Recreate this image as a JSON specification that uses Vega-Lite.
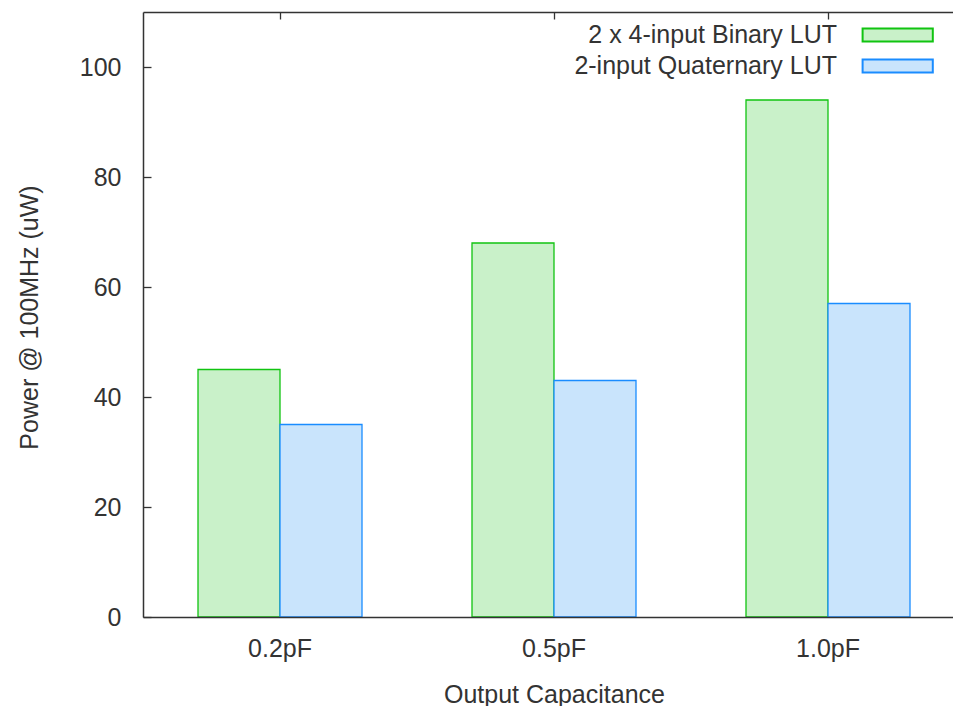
{
  "$schema": "https://vega.github.io/schema/vega-lite/v6.json",
  "width": 810,
  "height": 605,
  "autosize": {"type": "none"},
  "padding": {"left": 143, "top": 12, "right": 0, "bottom": 89},
  "background": "white",
  "config": {
    "view": {"stroke": null},
    "font": "Liberation Sans",
    "axis": {
      "grid": false,
      "domainColor": "#333333",
      "domainWidth": 1.5,
      "tickColor": "#333333",
      "tickWidth": 1.3,
      "labelFont": "Liberation Sans",
      "labelFontSize": 25,
      "labelColor": "#333333",
      "titleFont": "Liberation Sans",
      "titleFontSize": 25,
      "titleFontWeight": "normal",
      "titleColor": "#333333"
    }
  },
  "data": {
    "values": [
      {"cap": "0.2pF", "series": "2 x 4-input Binary LUT", "power": 45},
      {"cap": "0.2pF", "series": "2-input Quaternary LUT", "power": 35},
      {"cap": "0.5pF", "series": "2 x 4-input Binary LUT", "power": 68},
      {"cap": "0.5pF", "series": "2-input Quaternary LUT", "power": 43},
      {"cap": "1.0pF", "series": "2 x 4-input Binary LUT", "power": 94},
      {"cap": "1.0pF", "series": "2-input Quaternary LUT", "power": 57}
    ]
  },
  "layer": [
    {
      "mark": {"type": "bar", "strokeWidth": 1.3},
      "encoding": {
        "x": {
          "field": "cap",
          "type": "nominal",
          "sort": null,
          "scale": {"range": [0, 822], "paddingInner": 0, "paddingOuter": 0},
          "axis": {
            "orient": "bottom",
            "ticks": false,
            "domain": true,
            "zindex": 1,
            "labelAngle": 0,
            "labelPadding": 19,
            "title": "Output Capacitance",
            "titleY": 85,
            "titleBaseline": "alphabetic"
          }
        },
        "xOffset": {
          "field": "series",
          "type": "nominal",
          "sort": null,
          "scale": {"paddingOuter": 0.6707, "paddingInner": 0}
        },
        "y": {
          "field": "power",
          "type": "quantitative",
          "scale": {"domain": [0, 110], "nice": false},
          "axis": {
            "orient": "left",
            "values": [0, 20, 40, 60, 80, 100],
            "tickSize": -8,
            "labelPadding": 30,
            "title": "Power @ 100MHz (uW)",
            "titleAngle": -90,
            "titleX": -106,
            "titleY": 305,
            "titleAlign": "center",
            "titleBaseline": "alphabetic"
          }
        },
        "fill": {
          "field": "series",
          "type": "nominal",
          "scale": {
            "domain": ["2 x 4-input Binary LUT", "2-input Quaternary LUT"],
            "range": ["#c9f1c9", "#c9e4fc"]
          },
          "legend": {
            "orient": "none",
            "legendX": 742.2,
            "legendY": 10.5,
            "title": null,
            "padding": 0,
            "symbolType": "M-5.4,-1H5.4V1H-5.4Z",
            "symbolSize": 169,
            "symbolStrokeWidth": 2,
            "symbolOffset": 0,
            "rowPadding": 5,
            "labelAlign": "right",
            "labelBaseline": "middle",
            "labelOffset": -73.2,
            "labelFont": "Liberation Sans",
            "labelFontSize": 25,
            "labelColor": "#333333",
            "labelLimit": 400
          }
        },
        "stroke": {
          "field": "series",
          "type": "nominal",
          "scale": {
            "domain": ["2 x 4-input Binary LUT", "2-input Quaternary LUT"],
            "range": ["#11c411", "#1a8cff"]
          },
          "legend": {
            "orient": "none",
            "legendX": 742.2,
            "legendY": 10.5,
            "title": null,
            "padding": 0,
            "symbolType": "M-5.4,-1H5.4V1H-5.4Z",
            "symbolSize": 169,
            "symbolStrokeWidth": 2,
            "symbolOffset": 0,
            "rowPadding": 5,
            "labelAlign": "right",
            "labelBaseline": "middle",
            "labelOffset": -73.2,
            "labelFont": "Liberation Sans",
            "labelFontSize": 25,
            "labelColor": "#333333",
            "labelLimit": 400
          }
        }
      }
    },
    {
      "mark": {"type": "tick", "opacity": 0},
      "encoding": {
        "x": {
          "field": "cap",
          "type": "nominal",
          "sort": null,
          "axis": {
            "orient": "top",
            "labels": false,
            "domain": true,
            "ticks": true,
            "tickSize": -7,
            "title": null,
            "zindex": 1
          }
        }
      }
    }
  ]
}
